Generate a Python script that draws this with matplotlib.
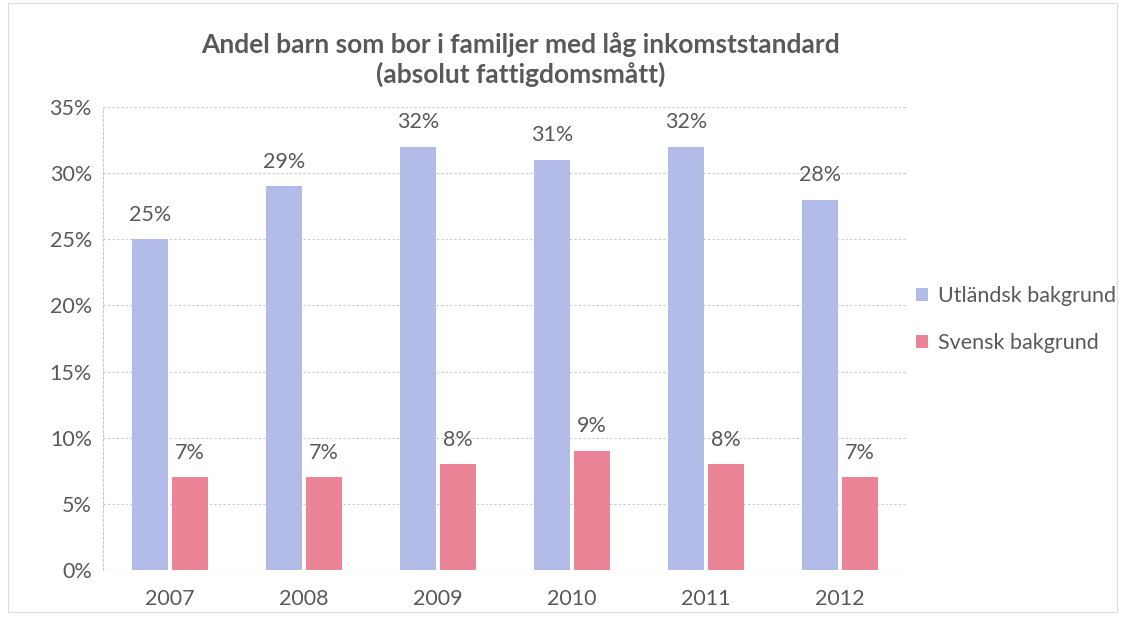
import numpy as np
import matplotlib.pyplot as plt
from matplotlib.patches import Rectangle

years = ["2007", "2008", "2009", "2010", "2011", "2012"]
utlandsk = [25, 29, 32, 31, 32, 28]
svensk = [7, 7, 8, 9, 8, 7]
series_names = ["Utländsk bakgrund", "Svensk bakgrund"]

blue = "#b3bbe8"
red = "#ea8496"
txt = "#595959"

plt.rcParams["font.family"] = ["Lato", "DejaVu Sans"]

fig = plt.figure(figsize=(11.25, 6.18), dpi=100)
ax = fig.add_axes([0.0916, 0.0777, 0.7147, 0.7493])

x = np.arange(len(years))
w = 0.27
b1 = ax.bar(x - w / 2 - 0.012, utlandsk, w, color=blue, label=series_names[0])
b2 = ax.bar(x + w / 2 + 0.012, svensk, w, color=red, label=series_names[1])

for bars, vals in ((b1, utlandsk), (b2, svensk)):
    for rect, v in zip(bars, vals):
        ax.text(rect.get_x() + rect.get_width() / 2, v + 1.1, f"{v}%",
                ha="center", va="bottom", fontsize=15.5, color=txt)

ax.set_xlim(-0.5, len(years) - 0.5)
ax.set_ylim(0, 35)
ax.set_yticks(range(0, 36, 5))
ax.set_yticklabels([f"{t}%" for t in range(0, 36, 5)])
ax.set_xticks(x)
ax.set_xticklabels(years)
ax.tick_params(axis="both", length=0, labelsize=15.5, colors=txt)
ax.tick_params(axis="y", pad=8)
ax.tick_params(axis="x", pad=14)
ax.yaxis.grid(True, color="#c8c8c8", linestyle=(0, (2, 2)), linewidth=0.8)
ax.set_axisbelow(True)
for s in ["top", "right", "bottom"]:
    ax.spines[s].set_visible(False)
ax.spines["left"].set_color("#c8c8c8")
ax.spines["left"].set_linestyle((0, (2, 2)))
ax.spines["left"].set_linewidth(0.8)
ax.axhline(0, color="#c8c8c8", linewidth=0.8, linestyle=(0, (2, 2)))

fig.text(0.463, 0.928, "Andel barn som bor i familjer med låg inkomststandard",
         ha="center", va="center", fontsize=19, fontweight="bold", color=txt)
fig.text(0.463, 0.879, "(absolut fattigdomsmått)",
         ha="center", va="center", fontsize=19, fontweight="bold", color=txt)

leg = ax.legend(loc="center left", bbox_to_anchor=(0.987, 0.54), frameon=False,
                fontsize=15.5, handlelength=0.55, handleheight=0.55,
                handletextpad=0.45, labelspacing=1.25, labelcolor=txt)

fig.patches.append(Rectangle((0.007, 0.01), 0.986, 0.985, transform=fig.transFigure,
                             fill=False, edgecolor="#dddddd", linewidth=0.8))

fig.savefig("out.png", dpi=100)
